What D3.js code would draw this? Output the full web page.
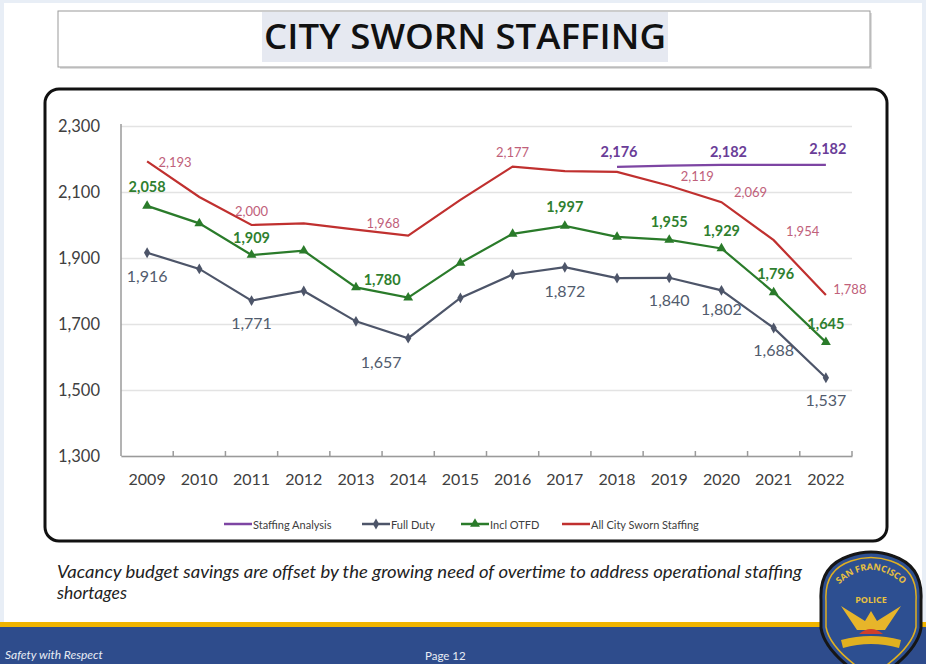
<!DOCTYPE html>
<html>
<head>
<meta charset="utf-8">
<script src="https://cdn.jsdelivr.net/npm/d3@7"></script>
<style>
  body { margin: 0; background: #e8eef6; }
  svg { display: block; }
</style>
</head>
<body>
<div id="chart"></div>
<script>
// data
var years = [2009, 2010, 2011, 2012, 2013, 2014, 2015, 2016, 2017, 2018, 2019, 2020, 2021, 2022];
var staffingAnalysis = [null, null, null, null, null, null, null, null, null, 2176, 2180, 2182, 2182, 2182];
var fullDuty = [1916, 1867, 1771, 1800, 1708, 1657, 1779, 1850, 1872, 1839, 1840, 1802, 1688, 1537];
var inclOTFD = [2058, 2005, 1909, 1922, 1811, 1780, 1885, 1973, 1997, 1964, 1955, 1929, 1796, 1645];
var allCitySworn = [2193, 2085, 2000, 2005, 1986, 1968, 2076, 2177, 2163, 2161, 2119, 2069, 1954, 1788];
var yTicks = [1300, 1500, 1700, 1900, 2100, 2300];
var seriesNames = ["Staffing Analysis", "Full Duty", "Incl OTFD", "All City Sworn Staffing"];

// which years carry a value label, per series
var saLabelYears = [2018, 2020, 2022];
var fdLabelYears = [2009, 2011, 2014, 2017, 2019, 2020, 2021, 2022];
var otLabelYears = [2009, 2011, 2014, 2017, 2019, 2020, 2021, 2022];
var acLabelYears = [2009, 2011, 2014, 2016, 2019, 2020, 2021, 2022];

// label nudges (dx, dy from the point), kept apart from the data
var saNudge = [[2, -15], [7, -13], [2, -16]];
var fdNudge = [[0, 23], [0, 22], [-27, 23], [0, 23], [0, 22], [0, 18], [0, 22], [0, 22]];
var otNudge = [[0, -19], [0, -18], [-26, -18], [0, -19], [0, -18], [0, -18], [2, -19], [0, -19]];
var acNudge = [[28, 1], [0, -14], [-25, -13], [0, -15], [28, -10], [29, -10], [29, -9], [24, -6]];

var W = 926, H = 664;
var font = "Lato, 'Open Sans', sans-serif";

var svg = d3.select("#chart").append("svg")
    .attr("width", W)
    .attr("height", H);

// slide background
svg.append("rect").attr("x", 4).attr("y", 3).attr("width", W - 8).attr("height", H).attr("fill", "#fff");

// title box
svg.append("rect").attr("x", 60).attr("y", 13).attr("width", 812).attr("height", 56)
    .attr("fill", "#ddd");
svg.append("rect").attr("x", 58).attr("y", 11).attr("width", 812).attr("height", 56)
    .attr("fill", "#fff").attr("stroke", "#9a9a9a").attr("stroke-width", 1);
svg.append("rect").attr("x", 262).attr("y", 12).attr("width", 406).attr("height", 50)
    .attr("fill", "#e6e9f1");
svg.append("text")
    .attr("x", 465).attr("y", 49)
    .attr("text-anchor", "middle")
    .attr("textLength", 402)
    .attr("lengthAdjust", "spacingAndGlyphs")
    .style("font-family", "'Open Sans', sans-serif")
    .style("font-weight", "600")
    .style("font-size", "35px")
    .style("fill", "#111")
    .text("CITY SWORN STAFFING");

// chart frame
svg.append("rect").attr("x", 45).attr("y", 89).attr("width", 842).attr("height", 452)
    .attr("rx", 14).attr("ry", 14)
    .attr("fill", "#fff").attr("stroke", "#111").attr("stroke-width", 3);

var margin = { left: 121, right: 852, top: 126, bottom: 456 };

var x = d3.scaleBand()
    .domain(years)
    .range([margin.left, margin.right])
    .padding(0);
var cx = function (yr) { return x(yr) + x.bandwidth() / 2; };

var y = d3.scaleLinear()
    .domain([1300, 2300])
    .range([margin.bottom, margin.top]);

// gridlines
svg.append("g")
    .attr("transform", "translate(" + margin.left + ",0)")
    .call(d3.axisLeft(y).tickValues(yTicks).tickSize(-(margin.right - margin.left)).tickFormat(""))
    .call(function (g) { g.select(".domain").remove(); })
    .selectAll("line").attr("stroke", "#e3e3e3").attr("stroke-width", 1.5);

// y labels
svg.append("g")
    .attr("transform", "translate(" + (margin.left - 18) + ",0)")
    .call(d3.axisLeft(y).tickValues(yTicks).tickSize(0).tickFormat(d3.format(",")))
    .call(function (g) { g.select(".domain").remove(); })
    .selectAll("text")
    .style("font-family", font).style("font-size", "16.5px").style("fill", "#404040");

// left axis line
svg.append("line")
    .attr("x1", margin.left).attr("x2", margin.left)
    .attr("y1", margin.top - 2).attr("y2", margin.bottom)
    .attr("stroke", "#9a9a9a").attr("stroke-width", 1.5);

// bottom axis
svg.append("g")
    .attr("transform", "translate(0," + margin.bottom + ")")
    .call(d3.axisBottom(x).tickSize(0).tickPadding(18))
    .call(function (g) { g.select(".domain").attr("stroke", "#9a9a9a").attr("stroke-width", 1.5); })
    .selectAll("text")
    .style("font-family", font).style("font-size", "16px").style("fill", "#404040");

svg.append("g")
    .selectAll("line")
    .data(years.slice(1).concat(["end"]))
    .enter().append("line")
    .attr("x1", function (d) { return d === "end" ? margin.right : x(d); })
    .attr("x2", function (d) { return d === "end" ? margin.right : x(d); })
    .attr("y1", margin.bottom).attr("y2", margin.bottom - 5)
    .attr("stroke", "#9a9a9a").attr("stroke-width", 1.5);

function toPoints(vals) {
    return years.map(function (yr, i) { return { year: yr, value: vals[i] }; })
        .filter(function (d) { return d.value != null; });
}

var line = d3.line()
    .x(function (d) { return cx(d.year); })
    .y(function (d) { return y(d.value); });

var series = [
    { name: seriesNames[1], pts: toPoints(fullDuty), color: "#4d5569", sym: d3.symbolDiamond, size: 34,
      labels: fdLabelYears, nudge: fdNudge, lcolor: "#515b6d", lsize: "16px", lweight: "normal" },
    { name: seriesNames[2], pts: toPoints(inclOTFD), color: "#2a7b2a", sym: d3.symbolTriangle, size: 42,
      labels: otLabelYears, nudge: otNudge, lcolor: "#2f7f2f", lsize: "14.5px", lweight: "bold" },
    { name: seriesNames[3], pts: toPoints(allCitySworn), color: "#c0302f", sym: null,
      labels: acLabelYears, nudge: acNudge, lcolor: "#c0607a", lsize: "13px", lweight: "normal" },
    { name: seriesNames[0], pts: toPoints(staffingAnalysis), color: "#7d45a3", sym: null,
      labels: saLabelYears, nudge: saNudge, lcolor: "#6a3d98", lsize: "14.5px", lweight: "bold" }
];

series.forEach(function (s) {
    svg.append("path")
        .datum(s.pts)
        .attr("d", line)
        .attr("fill", "none")
        .attr("stroke", s.color)
        .attr("stroke-width", 2.2);

    if (s.sym) {
        svg.append("g")
            .selectAll("path")
            .data(s.pts)
            .enter().append("path")
            .attr("transform", function (d) { return "translate(" + cx(d.year) + "," + y(d.value) + ")"; })
            .attr("d", d3.symbol().type(s.sym).size(s.size))
            .attr("fill", s.color);
    }
});

// value labels
series.forEach(function (s) {
    var byYear = {};
    s.pts.forEach(function (d) { byYear[d.year] = d.value; });
    svg.append("g")
        .selectAll("text")
        .data(s.labels)
        .enter().append("text")
        .attr("x", function (d, i) { return cx(d) + s.nudge[i][0]; })
        .attr("y", function (d, i) { return y(byYear[d]) + s.nudge[i][1]; })
        .attr("text-anchor", "middle")
        .attr("dominant-baseline", "central")
        .style("font-family", font)
        .style("font-size", s.lsize)
        .style("font-weight", s.lweight)
        .style("fill", s.lcolor)
        .text(function (d) { return d3.format(",")(byYear[d]); });
});

// legend
var legendX = [224, 362, 461, 562];
var legendSeries = [series[3], series[0], series[1], series[2]];
var legend = svg.append("g")
    .selectAll("g")
    .data(legendSeries)
    .enter().append("g")
    .attr("transform", function (d, i) { return "translate(" + legendX[i] + ",524)"; });
legend.append("line")
    .attr("x1", 0).attr("x2", 28)
    .attr("stroke", function (d) { return d.color; })
    .attr("stroke-width", 2.5);
legend.filter(function (d) { return d.sym; })
    .append("path")
    .attr("transform", "translate(14,0)")
    .attr("d", function (d) { return d3.symbol().type(d.sym).size(d.size)(); })
    .attr("fill", function (d) { return d.color; });
legend.append("text")
    .attr("x", 29).attr("y", 0)
    .attr("dominant-baseline", "central")
    .style("font-family", font)
    .style("font-size", "11px")
    .style("fill", "#404040")
    .text(function (d) { return d.name; });

// footnote
var note = svg.append("text")
    .style("font-family", font)
    .style("font-style", "italic")
    .style("font-size", "17.5px")
    .style("fill", "#222");
note.append("tspan").attr("x", 57).attr("y", 578)
    .attr("textLength", 745).attr("lengthAdjust", "spacingAndGlyphs")
    .text("Vacancy budget savings are offset by the growing need of overtime to address operational staffing");
note.append("tspan").attr("x", 57).attr("y", 599).text("shortages");

// footer band
svg.append("rect").attr("x", 0).attr("y", 622).attr("width", W).attr("height", 6).attr("fill", "#f0b400");
svg.append("rect").attr("x", 0).attr("y", 627).attr("width", W).attr("height", 40).attr("fill", "#2e4c8c");
svg.append("text").attr("x", 5).attr("y", 659)
    .style("font-family", font).style("font-style", "italic").style("font-size", "12px")
    .style("fill", "#e8ecf5").text("Safety with Respect");
svg.append("text").attr("x", 425).attr("y", 660)
    .style("font-family", font).style("font-size", "11.5px")
    .style("fill", "#e8ecf5").text("Page 12");

// police badge
var badge = svg.append("g").attr("transform", "translate(871,0)");
badge.append("path")
    .attr("d", "M-50,600 Q-52,566 -22,556 Q0,548 22,556 Q52,566 50,600 L50,628 Q46,654 0,682 Q-46,654 -50,628 Z")
    .attr("fill", "#2d4f91").attr("stroke", "#161616").attr("stroke-width", 3);
badge.append("path")
    .attr("d", "M-45,601 Q-47,570 -20,561 Q0,554 20,561 Q47,570 45,601 L45,627 Q41,650 0,676 Q-41,650 -45,627 Z")
    .attr("fill", "none").attr("stroke", "#e0b020").attr("stroke-width", 1.5);
badge.append("defs").append("path")
    .attr("id", "badgeArc")
    .attr("d", "M-38,590 Q0,550 38,590");
badge.append("text")
    .style("font-family", "'Open Sans', sans-serif").style("font-weight", "bold").style("font-size", "9px")
    .style("fill", "#e8c040")
    .append("textPath").attr("href", "#badgeArc").attr("startOffset", "50%").attr("text-anchor", "middle")
    .text("SAN FRANCISCO");
badge.append("text").attr("x", 0).attr("y", 603).attr("text-anchor", "middle")
    .style("font-family", "'Open Sans', sans-serif").style("font-weight", "bold").style("font-size", "9px")
    .style("fill", "#e8c040").text("POLICE");
badge.append("path")
    .attr("d", "M-30,606 L-6,621 L0,611 L6,621 L30,606 L14,630 L-14,630 Z")
    .attr("fill", "#e7b52a");
badge.append("path")
    .attr("d", "M-12,634 Q0,624 12,634 Z")
    .attr("fill", "#d0402a");
badge.append("path")
    .attr("d", "M-30,640 Q0,632 30,640 L28,648 Q0,640 -28,648 Z")
    .attr("fill", "#e0b020");
</script>
</body>
</html>
